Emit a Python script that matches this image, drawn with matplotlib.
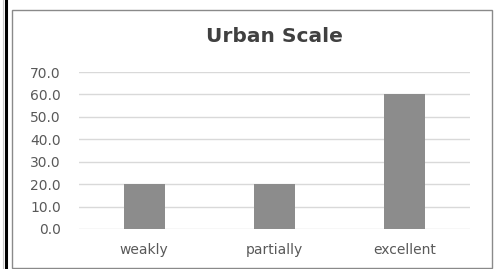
import matplotlib.pyplot as plt
from matplotlib.lines import Line2D
from matplotlib.patches import Rectangle
import numpy as np

categories = ["weakly", "partially", "excellent"]
values = [20.0, 20.0, 60.0]
yticks = [0, 10, 20, 30, 40, 50, 60, 70]

W, H = 494, 269
fig = plt.figure(figsize=(W / 100, H / 100), dpi=100)

# outer frame bits (document border + chart border)
fig.add_artist(Line2D([2.5 / W, 2.5 / W], [0, 1], color="#c8c8c8", lw=0.8))
fig.add_artist(Line2D([6 / W, 6 / W], [0, 1], color="black", lw=2.2))
fig.add_artist(Rectangle((11.5 / W, 1.5 / H), 480.5 / W, 258 / H, fill=False,
                         edgecolor="#8a8a8a", lw=1.0))

ax = fig.add_axes([79 / W, 40 / H, 391 / W, 157 / H])
x = np.arange(len(categories))
ax.bar(x, values, width=0.315, color="#8c8c8c", zorder=3)
ax.set_xlim(-0.5, len(categories) - 0.5)
ax.set_ylim(0, 70)
ax.set_yticks(yticks)
ax.set_yticklabels(["%.1f" % v for v in yticks])
ax.set_xticks(x)
ax.set_xticklabels(categories)
ax.grid(axis="y", color="#d9d9d9", lw=1.0, zorder=0)
for s in ax.spines.values():
    s.set_visible(False)
ax.tick_params(axis="both", length=0, labelsize=10, colors="#595959")
ax.tick_params(axis="y", pad=13)
ax.tick_params(axis="x", pad=10)

fig.text(274 / W, 1 - 37 / H, "Urban Scale", ha="center", va="center",
         fontsize=14.5, fontweight="bold", color="#404040")

fig.savefig("out.png", dpi=100)
